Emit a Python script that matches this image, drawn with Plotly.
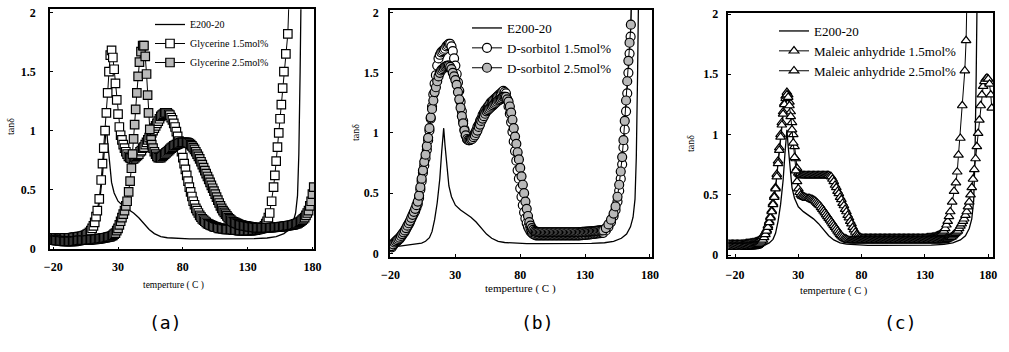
import plotly.graph_objects as go

# ---------------- data (temperature in C, tan delta) ----------------
E200 = [(-20,0.05),(-16,0.055),(-12,0.06),(-8,0.065),(-4,0.07),(0,0.075),(4,0.085),(7,0.1),
        (10,0.13),(12,0.18),(14,0.28),(16,0.42),(18,0.62),(19.5,0.85),(21,1.04),(22,0.9),
        (23.3,0.73),(25,0.56),(27,0.47),(30,0.4),(34,0.36),(38,0.33),(42,0.3),(46,0.26),
        (50,0.21),(54,0.16),(58,0.125),(63,0.1),(68,0.09),(75,0.085),(85,0.08),(95,0.08),
        (105,0.08),(115,0.08),(125,0.08),(135,0.082),(145,0.088),(152,0.1),(158,0.125),
        (162,0.16),(165,0.22),(167,0.3),(168.5,0.45),(169.5,0.8),(170.5,1.5),(171.5,2.4)]

GLY15 = [(-20,0.09),(-19,0.09),(-18,0.088),(-17,0.086),(-16,0.085),(-15,0.085),(-14,0.085),(-13,0.086),
         (-12,0.088),(-11,0.09),(-10,0.09),(-9,0.09),(-8,0.09),(-7,0.09),(-6,0.09),(-5,0.092),(-4,0.094),
         (-3,0.095),(-2,0.096),(-1,0.098),(0,0.1),(1,0.1),(2,0.102),(3,0.105),(4,0.108),(5,0.112),
         (6,0.118),(7,0.125),(8,0.135),(9,0.15),(10,0.17),(11,0.19),(12,0.22),(13,0.27),(14,0.32),
         (15.5,0.42),(17,0.58),(18,0.72),(19,0.85),(20,1.0),(21,1.15),(22,1.32),(23,1.5),(24,1.64),
         (25,1.68),(26,1.62),(27,1.52),(28,1.4),(29,1.26),(30,1.14),(31,1.03),(32,0.96),(33,0.92),
         (34,0.88),(35,0.85),(36,0.82),(37,0.8),(38,0.78),(39,0.77),(40,0.765),(41,0.76),(42,0.76),
         (43,0.77),(44,0.78),(45,0.79),(46,0.8),(47,0.82),(48,0.83),(49,0.85),(50,0.86),(51,0.88),
         (52,0.9),(53,0.92),(54,0.94),(55,0.96),(56,0.98),(57,1.0),(58,1.02),(59,1.04),(60,1.06),
         (61,1.08),(62,1.1),(63,1.12),(64,1.13),(65,1.14),(66,1.15),(67,1.15),(68,1.15),(69,1.14),
         (70,1.13),(71,1.11),(72,1.09),(73,1.06),(74,1.03),(75,0.99),(76,0.95),(77,0.91),(78,0.87),
         (79,0.82),(80,0.77),(81,0.72),(82,0.67),(83,0.62),(84,0.57),(85,0.52),(86,0.48),(87,0.44),
         (88,0.4),(89,0.37),(90,0.34),(91,0.32),(92,0.3),(93,0.28),(94,0.265),(95,0.25),(96,0.24),
         (97,0.23),(98,0.22),(99,0.21),(100,0.205),(101,0.2),(102,0.195),(103,0.19),(104,0.185),
         (105,0.18),(106,0.18),(107,0.175),(108,0.17),(109,0.17),(110,0.17),(111,0.165),(112,0.165),
         (113,0.16),(114,0.16),(115,0.16),(116,0.16),(117,0.16),(118,0.16),(119,0.155),(120,0.155),
         (121,0.155),(122,0.155),(123,0.15),(124,0.15),(125,0.15),(126,0.15),(127,0.15),(128,0.15),
         (129,0.15),(130,0.15),(131,0.15),(132,0.15),(133,0.15),(134,0.152),(135,0.155),(136,0.155),
         (137,0.158),(138,0.16),(139,0.162),(140,0.165),(141,0.17),(142,0.18),(143,0.19),(144,0.21),
         (145,0.23),(146,0.26),(147,0.3),(148.5,0.4),(150,0.52),(151,0.62),(152,0.74),(153,0.86),
         (154,0.98),(155,1.1),(156,1.22),(157,1.36),(158,1.5),(159.5,1.65),(161,1.82),(162.5,2.3)]

GLY25 = [(-20,0.07),(-19,0.07),(-18,0.068),(-17,0.066),(-16,0.065),(-15,0.064),(-14,0.063),(-13,0.062),
         (-12,0.06),(-11,0.06),(-10,0.06),(-9,0.06),(-8,0.06),(-7,0.06),(-6,0.06),(-5,0.06),(-4,0.06),
         (-3,0.062),(-2,0.064),(-1,0.066),(0,0.068),(1,0.07),(2,0.07),(3,0.07),(4,0.07),(5,0.07),
         (6,0.07),(7,0.072),(8,0.072),(9,0.074),(10,0.075),(11,0.075),(12,0.076),(13,0.078),(14,0.08),
         (15,0.08),(16,0.082),(17,0.084),(18,0.086),(19,0.088),(20,0.09),(21,0.092),(22,0.095),
         (23,0.098),(24,0.1),(25,0.105),(26,0.11),(27,0.12),(28,0.13),(29,0.15),(30,0.17),(31,0.2),
         (32,0.23),(33,0.26),(34,0.29),(35,0.32),(36,0.36),(37,0.4),(38.2,0.48),(39.3,0.57),
         (40.3,0.68),(41.2,0.8),(42,0.93),(42.8,1.05),(43.6,1.18),(44.5,1.32),(45.5,1.46),(46.5,1.58),
         (47.7,1.67),(49,1.72),(50,1.72),(51,1.63),(52,1.48),(52.8,1.3),(53.5,1.15),(54.5,1.01),
         (55.5,0.92),(56,0.88),(57,0.85),(58,0.82),(59,0.8),(60,0.78),(61,0.77),(62,0.77),(63,0.77),
         (64,0.78),(65,0.79),(66,0.8),(67,0.81),(68,0.82),(69,0.83),(70,0.84),(71,0.85),(72,0.86),
         (73,0.87),(74,0.875),(75,0.88),(76,0.885),(77,0.89),(78,0.895),(79,0.9),(80,0.9),(81,0.9),
         (82,0.9),(83,0.9),(84,0.895),(85,0.89),(86,0.88),(87,0.87),(88,0.855),(89,0.84),(90,0.82),
         (91,0.8),(92,0.78),(93,0.76),(94,0.735),(95,0.71),(96,0.685),(97,0.66),(98,0.635),(99,0.61),
         (100,0.585),(101,0.56),(102,0.535),(103,0.51),(104,0.485),(105,0.46),(106,0.435),(107,0.41),
         (108,0.385),(109,0.36),(110,0.34),(111,0.32),(112,0.305),(113,0.29),(114,0.275),(115,0.26),
         (116,0.25),(117,0.24),(118,0.23),(119,0.225),(120,0.22),(121,0.215),(122,0.21),(123,0.205),
         (124,0.2),(125,0.198),(126,0.195),(127,0.192),(128,0.19),(129,0.188),(130,0.186),(131,0.184),
         (132,0.182),(133,0.18),(134,0.18),(135,0.178),(136,0.176),(137,0.175),(138,0.175),(139,0.175),
         (140,0.175),(141,0.175),(142,0.175),(143,0.175),(144,0.175),(145,0.175),(146,0.175),
         (147,0.175),(148,0.176),(149,0.177),(150,0.178),(151,0.179),(152,0.18),(153,0.181),
         (154,0.182),(155,0.183),(156,0.184),(157,0.185),(158,0.186),(159,0.188),(160,0.19),
         (161,0.192),(162,0.194),(163,0.196),(164,0.198),(165,0.2),(166,0.204),(167,0.207),(168,0.21),
         (169,0.217),(170,0.223),(171,0.23),(172,0.24),(173,0.25),(174,0.26),(175,0.28),(176,0.3),
         (177,0.32),(178,0.36),(179,0.4),(180,0.46),(181,0.52)]

SOR15 = [(-19,0.05),(-18,0.065),(-17,0.08),(-16,0.09),(-15,0.1),(-14,0.11),(-13,0.12),(-12,0.135),
         (-11,0.15),(-10,0.165),(-9,0.18),(-8,0.2),(-7,0.22),(-6,0.24),(-5,0.26),(-4,0.285),(-3,0.31),
         (-2,0.33),(-1,0.35),(0,0.38),(1,0.41),(2,0.46),(3,0.53),(4,0.6),(5,0.67),(6,0.73),(7,0.79),
         (8,0.86),(9,0.94),(10,1.02),(11,1.12),(12,1.22),(13,1.32),(14,1.41),(15,1.48),(16,1.56),
         (17,1.62),(18,1.65),(19,1.67),(20,1.68),(21,1.69),(22,1.7),(23,1.72),(24,1.73),(25,1.74),
         (26,1.74),(27,1.72),(28,1.68),(29,1.62),(30,1.56),(31,1.49),(32,1.42),(33,1.35),(34,1.26),
         (35,1.18),(36,1.1),(37,1.03),(38,0.98),(39,0.95),(40,0.94),(41,0.94),(42,0.95),(43,0.96),
         (44,0.98),(45,1.0),(46,1.02),(47,1.05),(48,1.07),(49,1.1),(50,1.12),(51,1.15),(52,1.17),
         (53,1.19),(54,1.2),(55,1.22),(56,1.23),(57,1.25),(58,1.26),(59,1.27),(60,1.28),(61,1.29),
         (62,1.3),(63,1.31),(64,1.32),(65,1.33),(66,1.34),(67,1.35),(68,1.34),(69,1.33),(70,1.28),
         (71,1.22),(72,1.16),(73,1.09),(74,1.01),(75,0.93),(76,0.85),(77,0.77),(78,0.69),(79,0.62),
         (80,0.54),(81,0.47),(82,0.4),(83,0.34),(84,0.29),(85,0.25),(86,0.22),(87,0.2),(88,0.18),
         (89,0.17),(90,0.16),(91,0.155),(92,0.15),(93,0.15),(94,0.15),(95,0.15),(96,0.15),(97,0.15),
         (98,0.15),(99,0.15),(100,0.15),(101,0.15),(102,0.15),(103,0.15),(104,0.15),(105,0.15),
         (106,0.15),(107,0.15),(108,0.15),(109,0.15),(110,0.15),(111,0.15),(112,0.15),(113,0.15),
         (114,0.15),(115,0.15),(116,0.15),(117,0.15),(118,0.15),(119,0.15),(120,0.15),(121,0.15),
         (122,0.15),(123,0.15),(124,0.15),(125,0.15),(126,0.15),(127,0.152),(128,0.152),(129,0.153),
         (130,0.154),(131,0.155),(132,0.156),(133,0.157),(134,0.158),(135,0.16),(136,0.161),
         (137,0.162),(138,0.164),(139,0.165),(140,0.166),(141,0.167),(142,0.168),(143,0.17),
         (144,0.17),(146,0.19),(148,0.22),(150,0.26),(152,0.31),(153.5,0.36),(155,0.43),(156.3,0.52),
         (157.5,0.62),(158.6,0.74),(159.6,0.88),(160.6,1.03),(161.6,1.18),(162.5,1.33),(163.4,1.5),
         (164.3,1.66),(165.1,1.8),(166,2.3)]

SOR25 = [(-19,0.06),(-18,0.075),(-17,0.09),(-16,0.1),(-15,0.11),(-14,0.12),(-13,0.13),(-12,0.145),
         (-11,0.16),(-10,0.175),(-9,0.19),(-8,0.21),(-7,0.23),(-6,0.25),(-5,0.27),(-4,0.295),(-3,0.32),
         (-2,0.345),(-1,0.37),(0,0.4),(1,0.43),(2,0.48),(3,0.55),(4,0.62),(5,0.69),(6,0.76),(7,0.82),
         (8,0.89),(9,0.96),(10,1.04),(11,1.13),(12,1.2),(13,1.27),(14,1.34),(15,1.38),(16,1.43),
         (17,1.47),(18,1.5),(19,1.52),(20,1.53),(21,1.54),(22,1.55),(23,1.555),(24,1.56),(25,1.56),
         (26,1.55),(27,1.53),(28,1.5),(29,1.47),(30,1.44),(31,1.4),(32,1.34),(33,1.28),(34,1.21),
         (35,1.14),(36,1.08),(37,1.02),(38,0.98),(39,0.95),(40,0.94),(41,0.94),(42,0.945),(43,0.95),
         (44,0.965),(45,0.98),(46,1.0),(47,1.02),(48,1.05),(49,1.07),(50,1.1),(51,1.12),(52,1.14),
         (53,1.16),(54,1.18),(55,1.19),(56,1.2),(57,1.21),(58,1.22),(59,1.23),(60,1.24),(61,1.25),
         (62,1.26),(63,1.27),(64,1.275),(65,1.28),(66,1.29),(67,1.3),(68,1.3),(69,1.3),(70,1.28),
         (71,1.26),(72,1.22),(73,1.17),(74,1.11),(75,1.04),(76,0.97),(77,0.91),(78,0.84),(79,0.78),
         (80,0.71),(81,0.64),(82,0.57),(83,0.5),(84,0.43),(85,0.37),(86,0.31),(87,0.26),(88,0.23),
         (89,0.21),(90,0.195),(91,0.185),(92,0.18),(93,0.178),(94,0.176),(95,0.175),(96,0.175),
         (97,0.175),(98,0.175),(99,0.175),(100,0.175),(101,0.175),(102,0.175),(103,0.175),(104,0.175),
         (105,0.175),(106,0.175),(107,0.175),(108,0.175),(109,0.175),(110,0.175),(111,0.175),
         (112,0.175),(113,0.175),(114,0.175),(115,0.175),(116,0.175),(117,0.175),(118,0.175),
         (119,0.175),(120,0.175),(121,0.175),(122,0.175),(123,0.175),(124,0.175),(125,0.175),
         (126,0.176),(127,0.177),(128,0.178),(129,0.178),(130,0.179),(131,0.18),(132,0.18),
         (133,0.181),(134,0.182),(135,0.183),(136,0.184),(137,0.185),(138,0.186),(139,0.187),
         (140,0.188),(141,0.19),(142,0.19),(143,0.19),(144,0.19),(146,0.21),(148,0.24),(150,0.28),
         (152,0.33),(153.5,0.39),(155,0.47),(156.3,0.57),(157.5,0.68),(158.6,0.8),(159.6,0.94),
         (160.6,1.1),(161.6,1.27),(162.5,1.43),(163.4,1.6),(164.3,1.75),(165.3,1.9),(166.3,2.3)]

MAL15 = [(-25,0.09),(-24,0.09),(-23,0.09),(-22,0.09),(-21,0.09),(-20,0.09),(-19,0.09),(-18,0.09),
         (-17,0.09),(-16,0.09),(-15,0.09),(-14,0.09),(-13,0.092),(-12,0.094),(-11,0.095),(-10,0.096),
         (-9,0.098),(-8,0.1),(-7,0.1),(-6,0.102),(-5,0.105),(-4,0.108),(-3,0.11),(-2,0.115),(-1,0.12),
         (0,0.13),(1,0.14),(2,0.155),(3,0.17),(4,0.19),(5,0.21),(6,0.245),(7,0.28),(8,0.32),(9,0.37),
         (10,0.43),(11,0.49),(12,0.56),(13,0.67),(14,0.78),(15,0.89),(16,1.0),(17,1.1),(18,1.19),
         (19,1.26),(20,1.32),(21,1.35),(22,1.33),(23,1.27),(24,1.19),(25,1.1),(26,1.0),(27,0.9),
         (28,0.8),(29,0.72),(30,0.68),(31,0.67),(32,0.66),(33,0.66),(34,0.66),(35,0.66),(36,0.66),
         (37,0.66),(38,0.66),(39,0.66),(40,0.66),(41,0.66),(42,0.66),(43,0.66),(44,0.66),(45,0.66),
         (46,0.66),(47,0.66),(48,0.66),(49,0.66),(50,0.66),(51,0.66),(52,0.66),(53,0.66),(54,0.66),
         (55,0.655),(56,0.65),(57,0.63),(58,0.61),(59,0.58),(60,0.56),(61,0.53),(62,0.51),(63,0.48),
         (64,0.46),(65,0.43),(66,0.41),(67,0.38),(68,0.36),(69,0.33),(70,0.31),(71,0.28),(72,0.26),
         (73,0.23),(74,0.21),(75,0.19),(76,0.17),(77,0.16),(78,0.15),(79,0.145),(80,0.14),(81,0.14),
         (82,0.14),(83,0.14),(84,0.14),(85,0.14),(86,0.14),(87,0.14),(88,0.14),(89,0.14),(90,0.14),
         (91,0.14),(92,0.14),(93,0.14),(94,0.14),(95,0.14),(96,0.14),(97,0.14),(98,0.14),(99,0.14),
         (100,0.14),(101,0.14),(102,0.14),(103,0.14),(104,0.14),(105,0.14),(106,0.14),(107,0.14),
         (108,0.14),(109,0.14),(110,0.14),(111,0.14),(112,0.14),(113,0.14),(114,0.14),(115,0.14),
         (116,0.14),(117,0.14),(118,0.14),(119,0.14),(120,0.14),(121,0.14),(122,0.14),(123,0.14),
         (124,0.14),(125,0.14),(126,0.14),(127,0.14),(128,0.14),(129,0.14),(130,0.14),(131,0.142),
         (132,0.143),(133,0.144),(134,0.145),(135,0.146),(136,0.148),(137,0.15),(138,0.152),
         (139,0.155),(140,0.16),(141,0.165),(142,0.17),(143,0.18),(144,0.19),(145,0.2),(146,0.22),
         (147,0.25),(148,0.28),(149,0.32),(150,0.36),(151.5,0.44),(153,0.53),(154.5,0.6),(155.5,0.69),
         (156.5,0.83),(158,0.97),(159.5,1.24),(161.5,1.53),(162.5,1.78),(163.5,2.3)]

MAL25 = [(-25,0.065),(-24,0.065),(-23,0.065),(-22,0.065),(-21,0.065),(-20,0.065),(-19,0.065),
         (-18,0.065),(-17,0.065),(-16,0.065),(-15,0.065),(-14,0.066),(-13,0.066),(-12,0.067),
         (-11,0.067),(-10,0.068),(-9,0.068),(-8,0.069),(-7,0.069),(-6,0.07),(-5,0.07),(-4,0.072),
         (-3,0.075),(-2,0.08),(-1,0.09),(0,0.1),(1,0.11),(2,0.125),(3,0.145),(4,0.17),(5,0.2),
         (6,0.23),(7,0.27),(8,0.31),(9,0.36),(10,0.42),(11,0.48),(12,0.55),(13,0.65),(14,0.76),
         (15,0.87),(16,0.98),(17,1.08),(18,1.17),(19,1.25),(20,1.3),(21,1.33),(22,1.31),(23,1.24),
         (24,1.15),(25,1.04),(26,0.93),(27,0.81),(28,0.7),(29,0.61),(30,0.55),(31,0.52),(32,0.5),
         (33,0.49),(34,0.485),(35,0.48),(36,0.475),(37,0.47),(38,0.47),(39,0.47),(40,0.465),
         (41,0.46),(42,0.455),(43,0.45),(44,0.44),(45,0.43),(46,0.42),(47,0.41),(48,0.395),(49,0.38),
         (50,0.365),(51,0.35),(52,0.335),(53,0.32),(54,0.305),(55,0.29),(56,0.275),(57,0.26),
         (58,0.245),(59,0.23),(60,0.215),(61,0.2),(62,0.185),(63,0.17),(64,0.16),(65,0.15),(66,0.14),
         (67,0.135),(68,0.13),(69,0.125),(70,0.12),(71,0.12),(72,0.12),(73,0.12),(74,0.12),(75,0.12),
         (76,0.12),(77,0.12),(78,0.12),(79,0.12),(80,0.12),(81,0.12),(82,0.12),(83,0.12),(84,0.12),
         (85,0.12),(86,0.12),(87,0.12),(88,0.12),(89,0.12),(90,0.12),(91,0.12),(92,0.12),(93,0.12),
         (94,0.12),(95,0.12),(96,0.12),(97,0.12),(98,0.12),(99,0.12),(100,0.12),(101,0.12),(102,0.12),
         (103,0.12),(104,0.12),(105,0.12),(106,0.12),(107,0.12),(108,0.12),(109,0.12),(110,0.12),
         (111,0.12),(112,0.12),(113,0.12),(114,0.12),(115,0.12),(116,0.12),(117,0.12),(118,0.12),
         (119,0.12),(120,0.12),(121,0.12),(122,0.12),(123,0.12),(124,0.12),(125,0.12),(126,0.12),
         (127,0.12),(128,0.12),(129,0.12),(130,0.12),(131,0.12),(132,0.12),(133,0.12),(134,0.12),
         (135,0.12),(136,0.12),(137,0.12),(138,0.12),(139,0.12),(140,0.12),(141,0.12),(142,0.12),
         (143,0.12),(144,0.12),(145,0.12),(146,0.125),(147,0.13),(148,0.135),(149,0.14),(150,0.145),
         (151,0.15),(152,0.16),(153,0.17),(154,0.18),(155,0.19),(156,0.2),(157,0.22),(158,0.24),
         (159,0.26),(160,0.28),(161,0.3),(162,0.33),(163,0.36),(164,0.4),(165,0.44),(166,0.5),
         (167,0.56),(168,0.63),(169,0.71),(170,0.8),(171,0.9),(172,1.01),(173,1.12),(174,1.24),
         (175,1.33),(176,1.4),(177,1.44),(178,1.46),(179,1.47),(180,1.46),(181,1.42),(182,1.33),
         (182.8,1.22)]

X_TICKS = [-20, 30, 80, 130, 180]
Y_TICKS = [0, 0.5, 1, 1.5, 2]
Y_TICK_TEXT = ["0", "0.5", "1", "1.5", "2"]
PANEL_LABELS = ["(a)", "(b)", "(c)"]
X_TITLE = "temperture ( C )"
Y_TITLE = "tanδ"

# ---------------- figure ----------------
W, H = 1009, 352
SERIF = "Liberation Serif, Times New Roman, serif"
GRAY = "#b9b9b9"


def xs(p):
    return [a for a, _ in p]


def ys(p):
    return [b for _, b in p]


fig = go.Figure()

panels = [
    ("", "legend",
     [("E200-20", E200, None, None, 0),
      ("Glycerine 1.5mol%", GLY15, "square", "white", 8.5),
      ("Glycerine 2.5mol%", GLY25, "square", GRAY, 8.5)],
     (50, 314, 9.3, 249.3), [-22.5, 181.2], [-0.008, 2.029], (150, 10), 10, 10, 9.5, 285),
    ("2", "legend2",
     [("E200-20", E200, None, None, 0),
      ("D-sorbitol 1.5mol%", SOR15, "circle", "white", 9),
      ("D-sorbitol 2.5mol%", SOR25, "circle", GRAY, 9)],
     (390, 652, 10, 256.7), [-20.4, 181.6], [-0.028, 2.022], (467, 13), 13, 7, 11, 288),
    ("3", "legend3",
     [("E200-20", E200, None, None, 0),
      ("Maleic anhydride 1.5mol%", MAL15, "triangle-up", "white", 8.5),
      ("Maleic anhydride 2.5mol%", MAL25, "triangle-up", "white", 8.5)],
     (728.3, 993.3, 12.7, 256.7), [-25.3, 184], [-0.014, 2.011], (774, 16), 13, 6, 10.5, 291),
]

annotations = []
for i, (suf, leg, series, box, xr, yr, legpos, legfont, ystand, tsize, ty) in enumerate(panels):
    xa = "x" + suf
    ya = "y" + suf
    for name, data, sym, fill, size in series:
        if sym is None:
            fig.add_trace(go.Scatter(x=xs(data), y=ys(data), mode="lines", name=name,
                                     line=dict(color="black", width=1.3),
                                     xaxis=xa, yaxis=ya, legend=leg))
        else:
            fig.add_trace(go.Scatter(x=xs(data), y=ys(data), mode="lines+markers", name=name,
                                     line=dict(color="black", width=1),
                                     marker=dict(symbol=sym, size=size, color=fill,
                                                 line=dict(color="black", width=1.2)),
                                     xaxis=xa, yaxis=ya, legend=leg, cliponaxis=True))
    l, r, t, b = box
    axkw = dict(showgrid=False, zeroline=False, showline=True, linecolor="black", linewidth=1.5,
                mirror=True, ticks="inside", ticklen=3, tickcolor="black", automargin=False,
                tickfont=dict(family=SERIF, size=12, color="black", weight="bold"))
    fig.layout["xaxis" + suf] = dict(domain=[l / W, r / W], range=xr, tickvals=X_TICKS,
                                     anchor=ya, ticklabelstandoff=6, **axkw)
    fig.layout["yaxis" + suf] = dict(domain=[1 - b / H, 1 - t / H], range=yr, tickvals=Y_TICKS,
                                     ticktext=Y_TICK_TEXT, anchor=xa, ticklabelstandoff=ystand, **axkw)
    lx, ly = legpos
    fig.layout[leg] = dict(x=lx / W, y=1 - ly / H, xanchor="left", yanchor="top",
                           bgcolor="rgba(0,0,0,0)", itemwidth=30,
                           font=dict(family=SERIF, size=legfont, color="black"))
    annotations.append(dict(text=X_TITLE, xref="paper", yref="paper",
                            x=((l + r) / 2 - [9, 1, 27][i]) / W, y=1 - ty / H,
                            showarrow=False, xanchor="center", yanchor="middle",
                            font=dict(family=SERIF, size=tsize, color="black")))
    annotations.append(dict(text=Y_TITLE, xref="paper", yref="paper", textangle=-90,
                            x=[10, 355, 690][i] / W, y=1 - [127, 133, 144][i] / H,
                            showarrow=False, xanchor="center", yanchor="middle",
                            font=dict(family=SERIF, size=10, color="black")))
    annotations.append(dict(text=PANEL_LABELS[i], xref="paper", yref="paper",
                            x=[165, 537, 900][i] / W, y=1 - 322 / H,
                            showarrow=False, xanchor="center", yanchor="middle",
                            font=dict(family="DejaVu Sans Mono", size=18, color="black")))

fig.update_layout(width=W, height=H, margin=dict(l=0, r=0, t=0, b=0, autoexpand=False),
                  paper_bgcolor="white", plot_bgcolor="white",
                  annotations=annotations, showlegend=True)

fig.write_html("out.html", config={"displayModeBar": False},
               post_script="document.body.style.margin='0px';")
